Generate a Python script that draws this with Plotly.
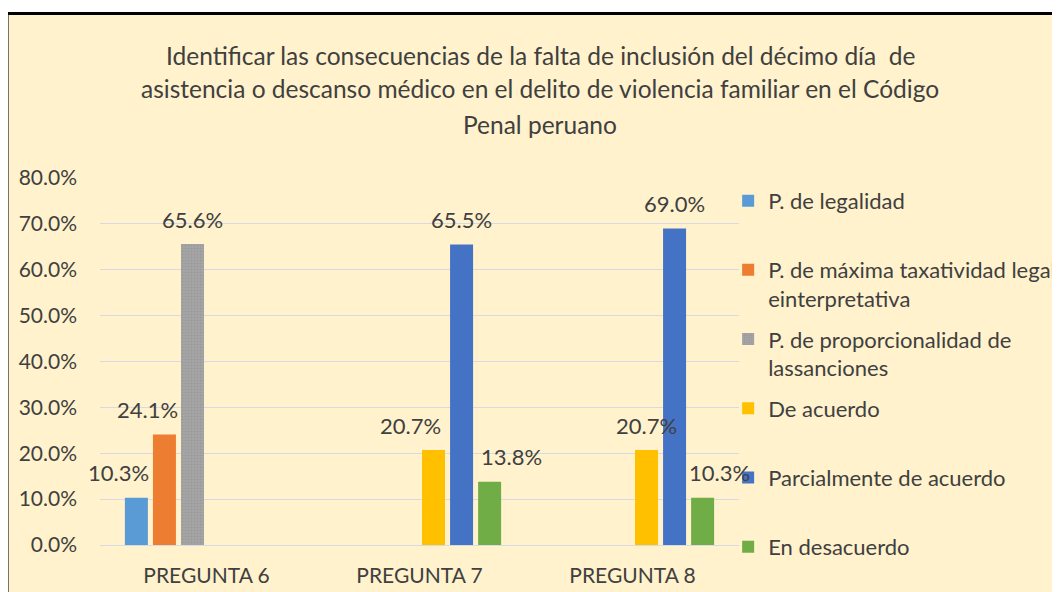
import plotly.graph_objects as go

# ---- data ----
categories = ["PREGUNTA 6", "PREGUNTA 7", "PREGUNTA 8"]
series_names = [
    "P. de legalidad<br> ",
    "P. de máxima taxatividad legal<br>einterpretativa",
    "P. de proporcionalidad de<br>lassanciones",
    "De acuerdo<br> ",
    "Parcialmente de acuerdo<br> ",
    "En desacuerdo",
]
legalidad = [0.103, None, None]
maxima_taxatividad = [0.241, None, None]
proporcionalidad = [0.656, None, None]
de_acuerdo = [None, 0.207, 0.207]
parcialmente = [None, 0.655, 0.690]
desacuerdo = [None, 0.138, 0.103]
series_values = [legalidad, maxima_taxatividad, proporcionalidad,
                 de_acuerdo, parcialmente, desacuerdo]
colors = ["#5B9BD5", "#ED7D31", "#A5A5A5", "#FFC000", "#4472C4", "#70AD47"]
title_lines = [
    "Identificar las consecuencias de la falta de inclusión del décimo día  de",
    "asistencia o descanso médico en el delito de violencia familiar en el Código",
    "Penal peruano",
]

# ---- styling ----
FONT = "Lato, 'Open Sans', sans-serif"
TXT = "#404040"
W, H = 1060, 592
MARGIN = dict(l=92, r=329, t=170, b=55)   # page body adds an 8px offset
BARGAP, GROUPGAP = 0.21, 0.18
# horizontal nudges (px) of data labels away from their bar, as placed in the original
label_nudge = {(0, 0): -18, (1, 0): -17, (3, 1): -23, (5, 1): 22, (5, 2): 17}

fig = go.Figure()
for i, (name, vals, color) in enumerate(zip(series_names, series_values, colors)):
    marker = dict(color=color, line=dict(width=0))
    if i == 2:
        marker["pattern"] = dict(shape=".", bgcolor=color, fgcolor="#8E8E8E",
                                 size=3, solidity=0.35, fillmode="overlay")
    fig.add_trace(go.Bar(x=categories, y=vals, name=name, marker=marker,
                         legendgroup=f"g{i}", hoverinfo="x+y+name"))

# data labels, anchored on each bar's category/value through the axes
n_series = len(series_values)
plot_w = W - MARGIN["l"] - MARGIN["r"]
slot_px = plot_w / len(categories) * (1 - BARGAP) / n_series
for i, vals in enumerate(series_values):
    for j, v in enumerate(vals):
        if v is None:
            continue
        dx = (i - (n_series - 1) / 2) * slot_px + label_nudge.get((i, j), 0)
        fig.add_annotation(x=categories[j], y=v, text=f"{v:.1%}",
                           xref="x", yref="y", showarrow=False,
                           xanchor="center", yanchor="middle",
                           xshift=dx, yshift=25,
                           font=dict(family=FONT, size=22, color=TXT))

fig.update_layout(
    width=W, height=H,
    margin=dict(**MARGIN, autoexpand=False),
    paper_bgcolor="white",
    plot_bgcolor="rgba(0,0,0,0)",
    barmode="group", bargap=BARGAP, bargroupgap=GROUPGAP,
    font=dict(family=FONT, color=TXT),
    showlegend=True,
    legend=dict(x=0.983, xanchor="left", y=0.995, yanchor="top",
                font=dict(family=FONT, size=22, color=TXT),
                valign="top", tracegroupgap=9, bgcolor="rgba(0,0,0,0)",
                maxheight=800, itemclick=False),
    shapes=[dict(type="rect", xref="paper", yref="paper",
                 x0=-0.1455, x1=1.8, y0=-0.5, y1=1.448,
                 line=dict(color="black", width=3),
                 fillcolor="#FFF2CC", layer="below")],
)
for line, yy in zip(title_lines, [1.335, 1.245, 1.147]):
    fig.add_annotation(text=line, xref="paper", yref="paper", x=0.6886, y=yy,
                       xanchor="center", yanchor="middle", showarrow=False,
                       font=dict(family=FONT, size=24.5, color=TXT))

fig.update_yaxes(range=[0, 0.8], dtick=0.1, tickformat=".1%",
                 gridcolor="#D6DAE2", gridwidth=1, zeroline=True,
                 zerolinecolor="#D6DAE2", zerolinewidth=1, showline=False,
                 tickfont=dict(family=FONT, size=21, color=TXT),
                 ticklabelstandoff=22)
fig.update_xaxes(range=[-0.5, len(categories) - 0.5], autorange=False,
                 showline=False, showgrid=False,
                 tickfont=dict(family=FONT, size=21, color=TXT),
                 ticklabelstandoff=16)

fig.write_html("out.html")
